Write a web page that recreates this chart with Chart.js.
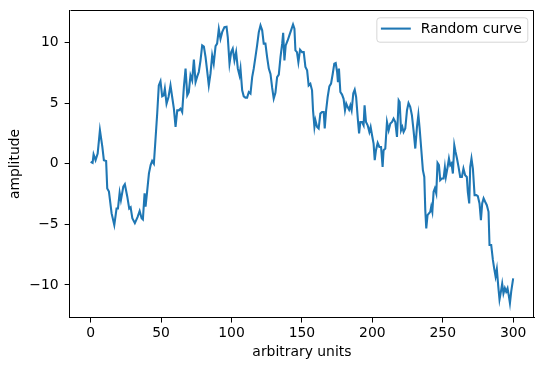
<!DOCTYPE html>
<html>
<head>
<meta charset="utf-8">
<script src="https://cdn.jsdelivr.net/npm/chart.js@4/dist/chart.umd.min.js"></script>
<style>
  html, body { margin: 0; padding: 0; background: #fff; }
  #wrap { width: 543px; height: 371px; }
</style>
</head>
<body>
<div id="wrap"><canvas id="grafico"></canvas></div>
<script>
// valores (x em unidades arbitrárias, y em amplitude)
const xValues = [
  0, 1.4, 2.1, 3.5, 5, 6.6, 8.3, 9.4, 11, 11.8, 13, 14.9, 16.8, 18.4, 19.4, 20.6, 21.5, 23.2, 24.3, 26,
  27.4, 28.4, 29.6, 31.4, 33.3, 34.8, 36.2, 37.1, 38.3, 39, 40.2, 41.4, 42.6, 43.7, 44.9, 46, 47.3, 48.4, 49.6, 50.8,
  51.9, 52.7, 53.9, 55.3, 56.7, 57.9, 59.1, 60.3, 61.5, 62.6, 63.8, 65, 66.2, 67.4, 68.6, 69.7, 70.9, 72.1, 73.3, 74.5,
  75.7, 76.8, 78, 79.2, 80.4, 81.6, 82.8, 83.9, 85.1, 86.3, 87.4, 88.7, 89.8, 91, 92.2, 93.4, 95, 96.5, 97.4, 98.6,
  99.8, 100.9, 102.1, 103.3, 104.5, 105.7, 106.4, 107.6, 108.7, 109.9, 111.1, 112.3, 113.5, 114.7, 115.8, 117, 118.2, 119.4, 120.6, 121.8,
  122.9, 124.1, 125.3, 126.5, 127.7, 128.9, 130, 131.2, 132.4, 133.6, 134.8, 136, 136.7, 137.6, 138.5, 139.9, 141.1, 142.3, 143.7, 144.7,
  145.4, 146.5, 147.5, 148.7, 150.1, 151.3, 152.5, 153.7, 154.8, 156, 157.2, 157.9, 158.9, 159.6, 160.8, 161.9, 163.1, 164.3, 165.5, 166.2,
  167.2, 168.3, 169.5, 170.7, 171.9, 173, 174, 175, 175.6, 176.3, 177.3, 178.5, 179.6, 180.6, 181.5, 182.5, 183.5, 184.4, 185.3, 186.5,
  187.5, 188.5, 189.7, 190.6, 191.5, 192.7, 193.8, 194.5, 195.5, 196.7, 197.9, 198.8, 199.8, 200.9, 201.7, 202.6, 203.8, 205, 206.2, 207.3,
  208, 209.2, 210.4, 211.6, 212.8, 214, 215.1, 216.3, 217.5, 218.7, 219.4, 220.4, 221.3, 222.2, 223.4, 224.6, 225.7, 226.9, 228.1, 229.3,
  230.5, 231.7, 232.7, 233.6, 234.8, 235.9, 236.9, 237.6, 238.3, 239.2, 240.2, 241.1, 241.8, 242.6, 243.5, 244.4, 245.4, 246.3, 247.3, 248.2,
  249.4, 250.6, 251.5, 252.2, 253.4, 254.4, 255.3, 256.2, 257.2, 258.2, 259.1, 260.1, 261.2, 262.4, 263.6, 264.7, 265.9, 267.1, 267.8, 268.8,
  269.5, 270.4, 271.4, 272.6, 273.8, 274.9, 276.1, 277.1, 278, 279, 280.1, 281.3, 282.5, 283.2, 284.4, 285.6, 286.5, 287.5, 288.4, 289.4,
  290.3, 291.3, 292.2, 293.1, 294.1, 295, 296, 297, 297.7, 298.6, 300
];
const yValues = [
  0.15, 0.07, 0.76, 0.29, 0.84, 2.76, 1.4, 0.29, 0.23, -2.04, -2.3, -4.1, -5.06, -3.7, -3.7, -2.4, -3.0, -1.9, -1.7, -2.7,
  -3.7, -3.6, -4.5, -4.9, -4.4, -3.9, -4.5, -4.6, -2.45, -3.55, -2.2, -0.8, -0.12, 0.23, 0.0, 1.9, 4.2, 6.46, 6.8, 5.56,
  5.64, 6.19, 4.95, 5.5, 6.46, 5.5, 4.54, 3.03, 4.4, 4.4, 4.54, 4.26, 6.32, 7.84, 5.64, 5.9, 7.28, 6.87, 8.58, 6.73,
  7.2, 7.56, 8.5, 9.75, 9.65, 8.79, 7.6, 6.46, 7.42, 8.93, 8.25, 9.7, 9.9, 11.1, 10.3, 10.85, 11.26, 11.3, 10.4, 8.25,
  9.2, 9.48, 8.52, 9.2, 7.84, 7.28, 7.84, 6.05, 5.56, 5.45, 5.45, 5.91, 5.78, 7.14, 7.84, 8.79, 9.75, 10.85, 11.4, 11.0,
  9.9, 9.9, 8.79, 7.84, 7.4, 6.25, 5.37, 5.85, 7.14, 7.35, 8.79, 9.9, 10.8, 8.52, 9.75, 10.16, 10.58, 11.0, 11.48, 11.13,
  9.34, 9.2, 8.38, 9.4, 9.2, 9.2, 7.97, 7.7, 6.46, 6.6, 6.05, 4.4, 3.03, 3.58, 3.03, 2.9, 4.13, 4.26, 4.26, 2.9,
  4.4, 5.5, 6.38, 6.6, 7.42, 8.25, 8.3, 7.56, 6.73, 7.84, 5.91, 5.7, 5.35, 4.4, 4.95, 4.67, 4.45, 4.81, 4.4, 5.8,
  6.1, 5.5, 3.7, 2.49, 3.44, 3.44, 3.17, 4.81, 3.44, 3.17, 2.62, 3.03, 2.35, 1.66, 0.29, 1.11, 1.71, 1.38, 1.38, -0.26,
  1.11, 1.25, 3.44, 2.76, 3.31, 3.44, 3.72, 3.44, 2.21, 5.23, 5.09, 2.76, 3.03, 2.62, 2.9, 4.4, 5.0, 4.7, 4.0, 2.7,
  1.25, 3.03, 4.03, 2.9, 1.11, -0.53, -1.09, -3.83, -5.34, -4.24, -4.1, -3.97, -3.55, -3.97, -2.32, -2.04, -2.45, 0.07, -0.12, -1.36,
  -1.22, -1.22, -0.31, -1.09, -0.31, 0.43, -0.12, 0.02, -0.81, 1.52, 0.97, 0.43, -0.26, -1.09, -1.09, -0.4, -0.95, -1.09, -2.32, -3.28,
  -0.26, 0.43, -0.4, -2.59, -2.59, -2.67, -3.28, -4.65, -3.28, -2.86, -3.14, -3.42, -3.97, -6.7, -6.7, -7.94, -8.63, -9.3, -8.7, -10.1,
  -11.2, -10.55, -9.9, -10.7, -10.27, -10.55, -10.27, -10.96, -11.5, -10.55, -9.45
];
const xTicks = [0, 50, 100, 150, 200, 250, 300];
const yTicks = [-10, -5, 0, 5, 10];

const fonte = { family: 'DejaVu Sans', size: 13.9 };
const azul = '#1f77b4';

// moldura superior/direita e legenda dentro da área do gráfico
const molduraELegenda = {
  id: 'molduraELegenda',
  afterDraw(chart) {
    const { ctx, chartArea: a } = chart;
    ctx.save();
    ctx.strokeStyle = '#000';
    ctx.lineWidth = 1;
    ctx.beginPath();
    ctx.moveTo(Math.round(a.left) + 0.5, Math.round(a.top) + 0.5);
    ctx.lineTo(Math.round(a.right) - 0.5, Math.round(a.top) + 0.5);
    ctx.lineTo(Math.round(a.right) - 0.5, Math.round(a.bottom) - 0.5);
    ctx.stroke();

    const texto = chart.data.datasets[0].label;
    ctx.font = '13.9px "DejaVu Sans"';
    const larg = 5.6 + 27.8 + 11.1 + ctx.measureText(texto).width + 5.6;
    const alt = 24.4;
    const bx = a.right - 7 - larg;
    const by = a.top + 7;
    ctx.beginPath();
    ctx.roundRect(bx + 0.5, by + 0.5, larg, alt, 3);
    ctx.fillStyle = 'rgba(255,255,255,0.8)';
    ctx.fill();
    ctx.strokeStyle = 'rgba(204,204,204,0.8)';
    ctx.stroke();

    ctx.strokeStyle = azul;
    ctx.lineWidth = 2.08;
    ctx.lineCap = 'square';
    ctx.beginPath();
    ctx.moveTo(bx + 5.6, by + 11.3);
    ctx.lineTo(bx + 33.4, by + 11.3);
    ctx.stroke();

    ctx.fillStyle = '#000';
    ctx.textBaseline = 'middle';
    ctx.textAlign = 'left';
    ctx.fillText(texto, bx + 44.5, by + 12.2);
    ctx.restore();
  }
};

new Chart(document.getElementById('grafico'), {
  type: 'line',
  data: {
    datasets: [{
      label: 'Random curve',
      data: xValues.map((x, i) => ({ x: x, y: yValues[i] })),
      borderColor: azul,
      borderWidth: 2.08,
      pointRadius: 0,
      tension: 0,
      fill: false
    }]
  },
  options: {
    responsive: true,
    maintainAspectRatio: false,
    animation: false,
    layout: { padding: { top: 10.3, right: 8.7, left: 0, bottom: 0 } },
    plugins: {
      legend: { display: false },
      tooltip: { enabled: false }
    },
    scales: {
      x: {
        type: 'linear',
        min: -15,
        max: 315,
        afterFit: s => { s.height = 53.3; s.paddingLeft = 0; s.paddingRight = 0; },
        afterBuildTicks: s => { s.ticks = xTicks.map(v => ({ value: v })); },
        grid: { drawOnChartArea: false, drawTicks: true, tickLength: 4.86, color: '#000', lineWidth: 1 },
        border: { display: true, color: '#000', width: 1 },
        ticks: { color: '#000', font: fonte, padding: 2.3, maxRotation: 0 },
        title: { display: true, text: 'arbitrary units', color: '#000', font: fonte, padding: { top: 0, bottom: 10.2 } }
      },
      y: {
        type: 'linear',
        min: -12.7,
        max: 12.65,
        afterFit: s => { s.width = 69.5; s.paddingTop = 0; s.paddingBottom = 0; },
        afterBuildTicks: s => { s.ticks = yTicks.map(v => ({ value: v })); },
        grid: { drawOnChartArea: false, drawTicks: true, tickLength: 4.86, color: '#000', lineWidth: 1 },
        border: { display: true, color: '#000', width: 1 },
        ticks: {
          color: '#000',
          font: fonte,
          padding: 6,
          callback: v => (v < 0 ? '\u2212' + Math.abs(v) : String(v))
        },
        title: { display: true, text: 'amplitude', color: '#000', font: fonte, padding: { top: 7.4, bottom: 0 } }
      }
    }
  },
  plugins: [molduraELegenda]
});
</script>
</body>
</html>
